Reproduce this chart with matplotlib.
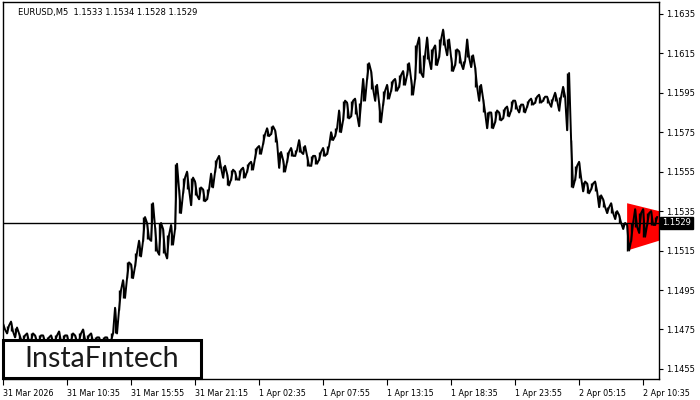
import matplotlib.pyplot as plt
import numpy as np

# EURUSD M5, one entry every 4 bars (high / low of each group)
highs = [
    1.1478, 1.1477, 1.1479, 1.1476, 1.1473, 1.1472, 1.1473, 1.1473, 1.1472, 1.1472,
    1.1472, 1.1471, 1.1472, 1.1472, 1.1474, 1.1472, 1.1472, 1.1473, 1.1472, 1.1473,
    1.1475, 1.1472, 1.1473, 1.1471, 1.1471, 1.1471, 1.1471, 1.1473, 1.1486, 1.1495,
    1.1500, 1.1509, 1.1508, 1.1514, 1.1520, 1.1532, 1.1529, 1.1539, 1.1527, 1.1529,
    1.1526, 1.1523, 1.1528, 1.1559, 1.1546, 1.1552, 1.1555, 1.1552, 1.1550, 1.1547,
    1.1546, 1.1546, 1.1554, 1.1561, 1.1563, 1.1558, 1.1554, 1.1556, 1.1555, 1.1556,
    1.1557, 1.1559, 1.1560, 1.1567, 1.1568, 1.1574, 1.1577, 1.1578, 1.1576, 1.1565,
    1.1561, 1.1565, 1.1567, 1.1566, 1.1571, 1.1568, 1.1563, 1.1563, 1.1563, 1.1565,
    1.1567, 1.1568, 1.1575, 1.1577, 1.1586, 1.1591, 1.1590, 1.1591, 1.1592, 1.1590,
    1.1602, 1.1610, 1.1606, 1.1599, 1.1590, 1.1596, 1.1599, 1.1601, 1.1602, 1.1604,
    1.1606, 1.1610, 1.1602, 1.1619, 1.1623, 1.1614, 1.1623, 1.1617, 1.1619, 1.1622,
    1.1627, 1.1622, 1.1613, 1.1617, 1.1616, 1.1611, 1.1622, 1.1614, 1.1608, 1.1599,
    1.1592, 1.1585, 1.1585, 1.1586, 1.1585, 1.1587, 1.1588, 1.1591, 1.1591, 1.1589,
    1.1589, 1.1591, 1.1592, 1.1593, 1.1594, 1.1593, 1.1593, 1.1592, 1.1595, 1.1593,
    1.1598, 1.1605, 1.1571, 1.1558, 1.1560, 1.1550, 1.1549, 1.1549, 1.1550, 1.1543,
    1.1541, 1.1537, 1.1539, 1.1535, 1.1533, 1.1529, 1.1528, 1.1529, 1.1536, 1.1534,
    1.1536, 1.1534, 1.1535, 1.1532,
]
lows = [
    1.1475, 1.1473, 1.1474, 1.1471, 1.1470, 1.1469, 1.1469, 1.1469, 1.1469, 1.1469,
    1.1469, 1.1468, 1.1469, 1.1469, 1.1469, 1.1469, 1.1468, 1.1469, 1.1469, 1.1469,
    1.1470, 1.1469, 1.1469, 1.1468, 1.1468, 1.1467, 1.1467, 1.1469, 1.1473, 1.1485,
    1.1491, 1.1501, 1.1501, 1.1507, 1.1512, 1.1520, 1.1521, 1.1520, 1.1515, 1.1513,
    1.1514, 1.1511, 1.1518, 1.1526, 1.1534, 1.1544, 1.1546, 1.1538, 1.1543, 1.1541,
    1.1540, 1.1541, 1.1547, 1.1555, 1.1557, 1.1552, 1.1548, 1.1551, 1.1551, 1.1551,
    1.1552, 1.1555, 1.1556, 1.1562, 1.1564, 1.1569, 1.1573, 1.1574, 1.1570, 1.1557,
    1.1555, 1.1560, 1.1563, 1.1563, 1.1565, 1.1564, 1.1558, 1.1558, 1.1559, 1.1561,
    1.1563, 1.1564, 1.1571, 1.1573, 1.1575, 1.1581, 1.1582, 1.1583, 1.1584, 1.1578,
    1.1591, 1.1602, 1.1597, 1.1591, 1.1580, 1.1589, 1.1592, 1.1596, 1.1596, 1.1598,
    1.1599, 1.1604, 1.1594, 1.1602, 1.1605, 1.1603, 1.1612, 1.1607, 1.1609, 1.1613,
    1.1619, 1.1614, 1.1606, 1.1609, 1.1610, 1.1607, 1.1613, 1.1608, 1.1598, 1.1591,
    1.1585, 1.1577, 1.1577, 1.1580, 1.1581, 1.1582, 1.1583, 1.1586, 1.1587, 1.1585,
    1.1585, 1.1588, 1.1589, 1.1590, 1.1590, 1.1591, 1.1590, 1.1588, 1.1591, 1.1586,
    1.1593, 1.1576, 1.1547, 1.1551, 1.1552, 1.1545, 1.1544, 1.1546, 1.1545, 1.1537,
    1.1537, 1.1534, 1.1534, 1.1531, 1.1529, 1.1526, 1.1515, 1.1520, 1.1527, 1.1524,
    1.1522, 1.1528, 1.1528, 1.1528,
]

TICK_BARS = [0, 64, 128, 192, 256, 320, 384, 448, 512, 576, 640]
TICK_LABELS = [
    "31 Mar 2026", "31 Mar 10:35", "31 Mar 15:55", "31 Mar 21:15",
    "1 Apr 02:35", "1 Apr 07:55", "1 Apr 13:15", "1 Apr 18:35",
    "1 Apr 23:55", "2 Apr 05:15", "2 Apr 10:35",
]
PRICE_TICKS = [1.1455, 1.1475, 1.1495, 1.1515, 1.1535, 1.1555, 1.1575, 1.1595, 1.1615, 1.1635]

last_ohlc = [1.1533, 1.1534, 1.1528, 1.1529]
bid = 1.1529

# pennant (triangle) pattern corners
pennant_bars = [624, 656, 656, 624]
pennant_prices = [1.1539, 1.1535, 1.1520, 1.1515]

BAR_STEP = 4

fig = plt.figure(figsize=(7, 4), dpi=100)
ax = fig.add_axes([0.0036, 0.0525, 0.938, 0.9415])

bars = np.arange(len(highs)) * BAR_STEP
highs = np.array(highs)
lows = np.array(lows)

# zigzag through high and low of every group, alternating the order
up = np.arange(len(highs)) % 2 == 0
first = np.where(up, highs, lows)
second = np.where(up, lows, highs)
zx = np.column_stack([bars, bars + 2]).ravel()
zy = np.column_stack([first, second]).ravel()

ax.fill(pennant_bars, pennant_prices, color="#ff0000", lw=0, zorder=1)
ax.vlines(bars, lows, highs, color="black", linewidth=1.0, zorder=3)
ax.plot(zx, zy, color="black", linewidth=1.4, zorder=3)

ax.axhline(bid, color="black", linewidth=1.0, zorder=2)

ax.set_xlim(-0.5, 656)
ax.set_ylim(1.14499, 1.16408)

ax.yaxis.tick_right()
ax.set_yticks(PRICE_TICKS)
ax.set_yticklabels([f"{p:.4f}" for p in PRICE_TICKS])
ax.tick_params(axis="y", direction="out", length=3, width=0.8, pad=2, labelsize=6.0)

ax.set_xticks(TICK_BARS)
ax.set_xticklabels(TICK_LABELS, ha="left")
ax.tick_params(axis="x", direction="out", length=4, width=0.8, pad=3, labelsize=5.8)

for s in ax.spines.values():
    s.set_linewidth(1.0)
    s.set_color("black")

# current price tag
ax.text(1.0045, bid, f"{bid:.4f}", transform=ax.get_yaxis_transform(),
        fontsize=6.0, color="white", va="center", ha="left", zorder=6,
        bbox=dict(boxstyle="square,pad=0.2", facecolor="black", edgecolor="black"))

title = "EURUSD,M5  " + " ".join(f"{v:.4f}" for v in last_ohlc)
fig.text(18 / 700, 1 - 12 / 400, title, fontsize=6.0, va="center", ha="left")

# logo
logo = plt.Rectangle((3 / 700, 1 - 378 / 400), 198 / 700, 38 / 400, transform=fig.transFigure,
                     facecolor="white", edgecolor="black", linewidth=2.2, zorder=10)
fig.patches.append(logo)
fig.text(102 / 700, 1 - 359 / 400, "InstaF\u0131ntech", fontsize=20.5, family="Lato",
         color="#1a1a1a", va="center", ha="center", zorder=11)

plt.savefig("out.png", dpi=100)
